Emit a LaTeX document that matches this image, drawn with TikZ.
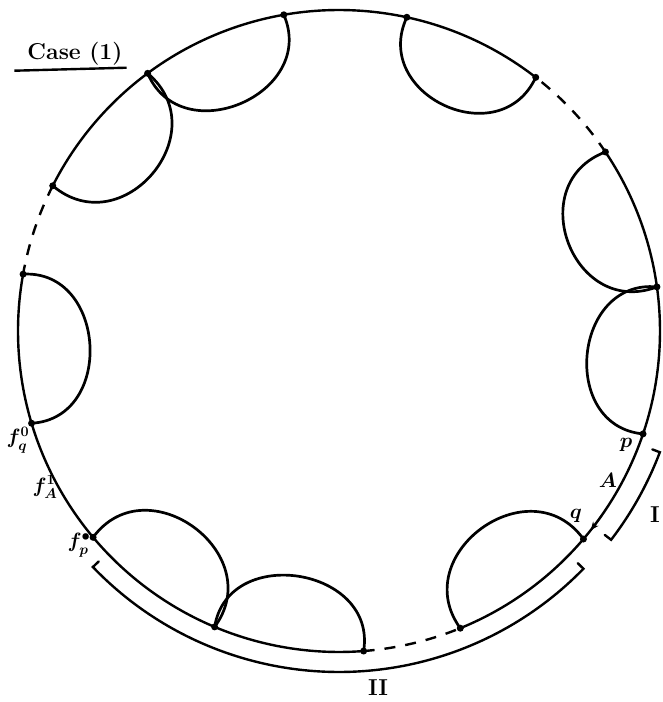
\documentclass[tikz,border=0pt]{standalone}
\usetikzlibrary{calc,arrows.meta}
\newcommand\lobecurve[3][0.6]{\draw[lobe] (#2) .. controls ($(#2)!#1!90:(#3)$) and ($(#3)!#1!-90:(#2)$) .. (#3);}
\begin{document}
\begin{tikzpicture}[x=1pt,y=1pt,
  main/.style={line width=2.4pt, line cap=round},
  dashline/.style={line width=2.4pt, dash pattern=on 11pt off 10pt},
  lobe/.style={line width=2.7pt, line cap=round},
  dotpt/.style={circle, fill, inner sep=0pt, minimum size=7pt},
  lbl/.style={font=\fontsize{20}{24}\selectfont\boldmath, inner sep=1pt},
  bigl/.style={font=\fontsize{23}{27}\selectfont\bfseries, inner sep=1pt}]
\useasboundingbox (0,0) rectangle (662,702);
\coordinate (C) at (339,371);
\foreach \n/\a in {1/99.9, 2/77.8, 3/52.2, 4/33.9, 5/7.9, 6/-18.7, 7/-40.4, 8/-67.8,
                   9/-85.6, 10/-112.8, 11/-140, 12/-163.3, 13/169.8, 14/153.1, 15/126.6}
  \coordinate (P\n) at ([shift={(\a:321pt)}]C);

% big circle
\draw[main] (P8) arc[start angle=-67.8, end angle=-40.4, radius=321pt];
\draw[main] (P7) arc[start angle=-40.4, end angle=-18.7, radius=321pt];
\coordinate (Qs) at ([shift={(-35:321pt)}]C);
\draw[line width=1.8pt, -{Stealth[length=8pt,width=7pt]}] (Qs) arc[start angle=-35, end angle=-38.3, radius=321pt];
\draw[main] (P6) arc[start angle=-18.7, end angle=33.9, radius=321pt];
\draw[dashline] (P4) arc[start angle=33.9, end angle=52.2, radius=321pt];
\draw[main] (P3) arc[start angle=52.2, end angle=153.1, radius=321pt];
\draw[dashline] (P14) arc[start angle=153.1, end angle=169.8, radius=321pt];
\draw[main] (P13) arc[start angle=169.8, end angle=274.4, radius=321pt];
\draw[dashline] (P9) arc[start angle=-85.6, end angle=-67.8, radius=321pt];

% inner lobes
\lobecurve[0.6]{P3}{P2}
\lobecurve[0.58]{P1}{P15}
\lobecurve[0.62]{P15}{P14}
\lobecurve[0.56]{P13}{P12}
\lobecurve[0.6]{P11}{P10}
\lobecurve[0.56]{P10}{P9}
\lobecurve[0.6]{P8}{P7}
\lobecurve[0.57]{P6}{P5}
\lobecurve[0.62]{P5}{P4}

% points
\foreach \n in {1,...,15} \node[dotpt] at (P\n) {};

% bracket I
\coordinate (Ia) at ([shift={(-20.7:335pt)}]C);
\coordinate (Ib) at ([shift={(-20.7:343pt)}]C);
\coordinate (Ic) at ([shift={(-37.5:335pt)}]C);
\draw[main] (Ia) -- (Ib) arc[start angle=-20.7, end angle=-37.5, radius=343pt] -- (Ic);
% bracket II
\coordinate (IIa) at ([shift={(223.8:333pt)}]C);
\coordinate (IIb) at ([shift={(223.8:341pt)}]C);
\coordinate (IIc) at ([shift={(315.8:333pt)}]C);
\draw[main] (IIa) -- (IIb) arc[start angle=223.8, end angle=315.8, radius=341pt] -- (IIc);

% labels
\node[bigl] (case) at (75,648) {Case (1)};
\draw[line width=2.4pt] ([xshift=-12pt,yshift=-4pt]case.south west) coordinate (ul1) -- ([xshift=3pt,yshift=-1pt]case.south east) coordinate (ul2);
\node[lbl] (lp) at (626,257) {$p$};
\node[lbl] (lA) at (608,222) {$A$};
\node[lbl] (lq) at (576,186) {$q$};
\node[bigl] (lI) at (655,187) {I};
\node[bigl] (lII) at (378,14) {II};
\node[lbl] (fq) at (18,262) {$f^{0}_{q}$};
\node[lbl] (fA) at (45,215) {$f^{1}_{A}$};
\node[lbl] (fp) at (79,157) {$f^{\bullet}_{p}$};
\end{tikzpicture}
\end{document}
